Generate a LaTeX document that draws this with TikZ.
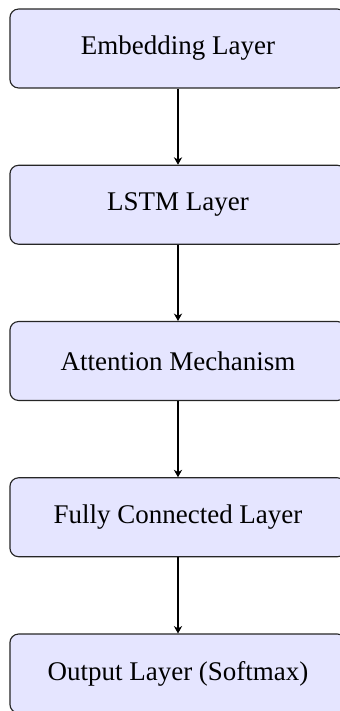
\documentclass[tikz,border=0pt]{standalone}
\usepackage{fontspec}
\setmainfont{Liberation Serif}
\usetikzlibrary{arrows.meta}
\begin{document}
\begin{tikzpicture}[x=0.3484pt, y=-0.3484pt,
  layerbox/.style={draw=black!85, line width=0.4pt, fill=blue!10, rounded corners=3pt,
    minimum width=117.1pt, minimum height=27.5pt, inner sep=0pt, font=\fontsize{9.4pt}{11pt}\selectfont},
  flow/.style={-{Stealth[length=2.6pt,width=2.9pt]}, line width=0.4pt}]
  \useasboundingbox (0,0) rectangle (340,711);
  \node[layerbox] (emb)  at (178,48.5)  {Embedding Layer};
  \node[layerbox] (lstm) at (178,204.75) {LSTM Layer};
  \node[layerbox] (att)  at (178,361)   {Attention Mechanism};
  \node[layerbox] (fc)   at (178,517.25) {Fully Connected Layer};
  \node[layerbox] (out)  at (178,673.5) {Output Layer (Softmax)};
  \draw[flow] (emb) -- (lstm);
  \draw[flow] (lstm) -- (att);
  \draw[flow] (att) -- (fc);
  \draw[flow] (fc) -- (out);
\end{tikzpicture}
\end{document}
